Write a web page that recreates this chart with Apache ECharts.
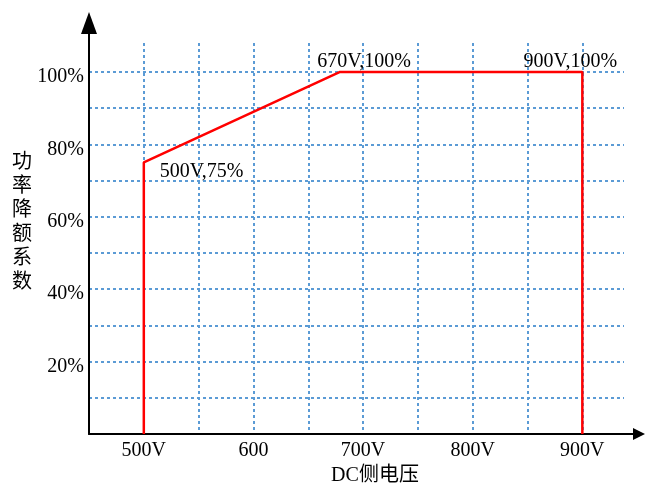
<!DOCTYPE html>
<html><head><meta charset="utf-8">
<script src="https://cdn.jsdelivr.net/npm/echarts@6/dist/echarts.min.js"></script>
<style>html,body{margin:0;padding:0;background:#fff}#c{width:645px;height:489px}</style>
</head><body><div id="c"></div>
<script>
// Data
const voltage = [500, 500, 679, 900, 900];
const derating = [0, 75, 100, 100, 0];
const pointLabels = ['', '500V,75%', '670V,100%', '900V,100%', ''];
const xTickValues = [500, 600, 700, 800, 900];
const xTickLabels = ['500V', '600', '700V', '800V', '900V'];
const yTickValues = [20, 40, 60, 80, 100];
const yTickLabels = ['20%', '40%', '60%', '80%', '100%'];
const xName = 'DC侧电压';
const yName = '功率降额系数';

const serif = '"Liberation Serif", "Times New Roman", "Noto Sans CJK SC", serif';
const labelOffsets = [null, {align:'left', offset:[16, 9]}, {align:'center', offset:[24, -10]}, {align:'center', offset:[-12, -10]}, null];

const seriesData = voltage.map((v, i) => {
  const item = {value: [v, derating[i]]};
  if (pointLabels[i]) {
    item.label = {show: true, formatter: pointLabels[i], position: 'inside', align: labelOffsets[i].align,
      verticalAlign: 'middle', offset: labelOffsets[i].offset, fontFamily: serif, fontSize: 20, color: '#000'};
  }
  return item;
});

const chart = echarts.init(document.getElementById('c'), null, {renderer: 'canvas'});
const gridStyle = {show: true, showMinLine: false, showMaxLine: false, lineStyle: {color: '#5B9BD5', width: 2, type: [3, 3]}};
chart.setOption({
  backgroundColor: '#fff',
  animation: false,
  grid: [
    {left: 89, right: 21, top: 43, bottom: 55},
    {left: 89, right: 6, top: 23, bottom: 55}
  ],
  xAxis: [
    {type: 'value', gridIndex: 0, min: 450, max: 938, interval: 50,
     axisLine: {show: false}, axisTick: {show: false}, splitLine: gridStyle,
     axisLabel: {show: true, margin: 7, showMaxLabel: false, fontFamily: serif, fontSize: 20, color: '#000',
       formatter: v => { const k = xTickValues.indexOf(v); return k >= 0 ? xTickLabels[k] : ''; }}},
    {type: 'value', gridIndex: 1, min: 0, max: 1, axisLabel: {show: false}, axisTick: {show: false}, splitLine: {show: false},
     axisLine: {show: true, symbol: ['none', 'triangle'], symbolSize: [12, 12], lineStyle: {color: '#000', width: 2}}}
  ],
  yAxis: [
    {type: 'value', gridIndex: 0, min: 0, max: 108, interval: 10,
     axisLine: {show: false}, axisTick: {show: false}, splitLine: gridStyle,
     axisLabel: {show: true, margin: 5, showMaxLabel: false, verticalAlign: 'top', lineHeight: 10, fontFamily: serif, fontSize: 20, color: '#000',
       formatter: v => { const k = yTickValues.indexOf(v); return k >= 0 ? yTickLabels[k] : ''; }}},
    {type: 'value', gridIndex: 1, min: 0, max: 1, axisLabel: {show: false}, axisTick: {show: false}, splitLine: {show: false},
     axisLine: {show: true, symbol: ['none', 'triangle'], symbolSize: [16, 22], lineStyle: {color: '#000', width: 2}}}
  ],
  series: [{
    type: 'line', xAxisIndex: 0, yAxisIndex: 0,
    data: seriesData,
    showSymbol: true, symbol: 'circle', symbolSize: 0,
    lineStyle: {color: '#FF0000', width: 2.5},
    itemStyle: {color: '#FF0000'},
    z: 5
  }],
  graphic: [
    {type: 'text', left: 12, top: 148, style: {text: yName.split('').join('\n'), font: '20px "Noto Sans CJK SC"', lineHeight: 24, fill: '#000'}},
    {type: 'text', x: 375, y: 476, style: {text: xName, font: '20px ' + serif, textAlign: 'center', textVerticalAlign: 'middle', fill: '#000'}}
  ]
});
</script></body></html>
